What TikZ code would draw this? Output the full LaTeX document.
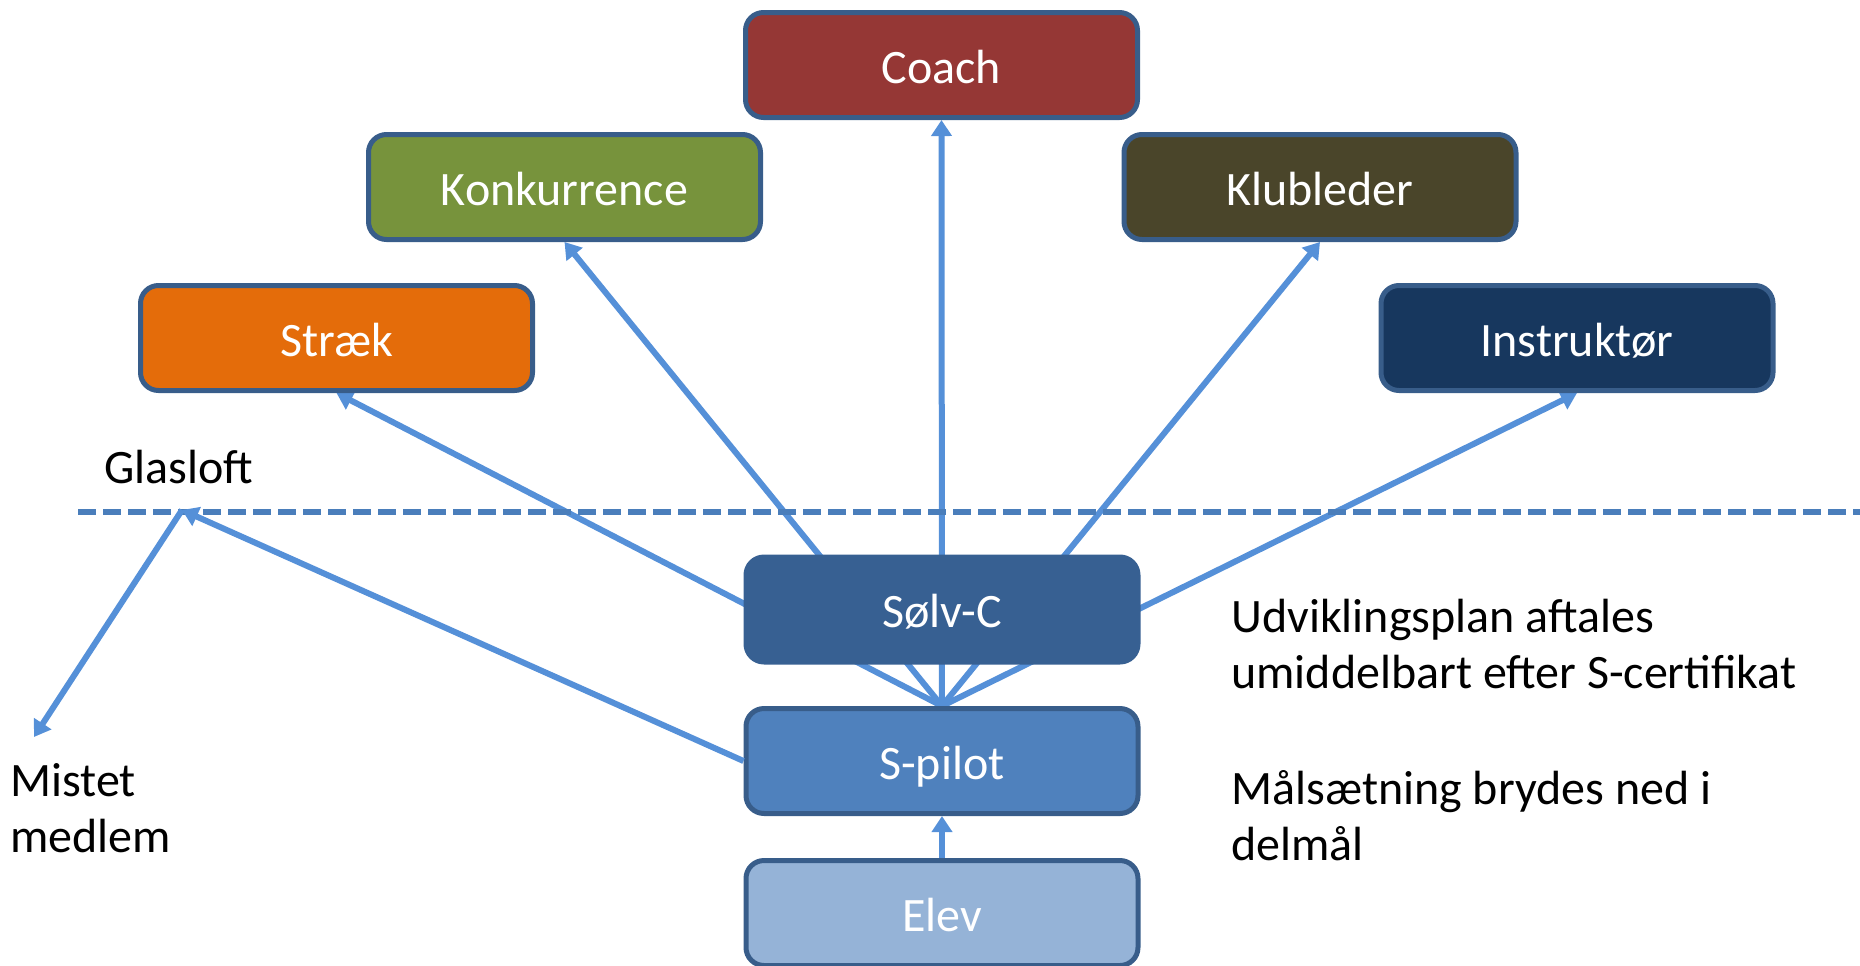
\documentclass[tikz,border=0pt]{standalone}
\usepackage{fontspec}
\setmainfont{Carlito}
\usetikzlibrary{arrows.meta,backgrounds}

\definecolor{boxline}{HTML}{385D8A}
\definecolor{arrowblue}{HTML}{5590D8}
\definecolor{dashblue}{HTML}{4A7EBB}
\definecolor{coachred}{HTML}{953735}
\definecolor{konkgreen}{HTML}{77933C}
\definecolor{klubbrown}{HTML}{4A452A}
\definecolor{straekorange}{HTML}{E46C0A}
\definecolor{instrnavy}{HTML}{17375E}
\definecolor{solvblue}{HTML}{376092}
\definecolor{spilotblue}{HTML}{4F81BD}
\definecolor{elevblue}{HTML}{95B3D7}

\begin{document}
\begin{tikzpicture}[x=0.5pt, y=-0.5pt]
        \tikzstyle{box}=[rectangle, rounded corners=9pt, draw=boxline, line width=2.5pt,
            minimum width=196pt, minimum height=52.5pt, text=white,
            text height=20pt, text depth=2pt, font=\fontsize{24}{29}\selectfont]
        \tikzstyle{link}=[draw=arrowblue, line width=3pt, -{Triangle[width=10pt,length=8pt]}]
        \tikzstyle{ceiling}=[draw=dashblue, line width=3pt, dash pattern=on 9pt off 3.5pt]
        \tikzstyle{note}=[anchor=base west, inner sep=0pt, align=left, font=\fontsize{24}{28}\selectfont]

        \useasboundingbox (0,0) rectangle (1860,965);
        \clip (0,0) rectangle (1860,965);

        % Nodes
        \node[box, fill=coachred] (coach) at (941.5, 65) {Coach};

        \node[box, fill=konkgreen] (konk) at (564.5, 187) {Konkurrence};
        \node[box, fill=klubbrown] (klub) at (1320, 187) {Klubleder};

        \node[box, fill=straekorange] (straek) at (336.5, 338) {Stræk};
        \node[box, fill=instrnavy] (instr) at (1577, 338) {Instruktør};

        \node[box, fill=solvblue, draw=solvblue] (solvc) at (942, 609.5) {Sølv-C};
        \node[box, fill=spilotblue] (spilot) at (942, 761) {S-pilot};
        \node[box, fill=elevblue] (elev) at (942, 913) {Elev};

        \coordinate (loft) at (182, 510);
        \coordinate (lost) at (34, 737);
        \coordinate (ceil-a) at (78, 512);
        \coordinate (ceil-b) at (1860, 512);

        % Texts (base = last line)
        \node[note] (glas) at (104, 483) {Glasloft};
        \node[note] (mistet) at (10, 852) {Mistet\\medlem};
        \node[note] (plan) at (1231, 688) {Udviklingsplan aftales\\umiddelbart efter S-certifikat};
        \node[note] (maal) at (1231, 860) {Målsætning brydes ned i\\delmål};

        % Edges
        \draw[ceiling] (ceil-a) -- (ceil-b);

        \begin{pgfonlayer}{background}
        \draw[link] (spilot.north) to (straek.south);
        \draw[link] (spilot.north) to (konk.south);
        \draw[link] (spilot.north) to (coach.south);
        \draw[link] (spilot.north) to (klub.south);
        \draw[link] (spilot.north) to (instr.south);
        \end{pgfonlayer}

        \draw[link] (elev.north) to (spilot.south);
        \draw[link] (spilot.west) to (loft);
        \draw[link] (loft) to (lost);

    \end{tikzpicture}
\end{document}
